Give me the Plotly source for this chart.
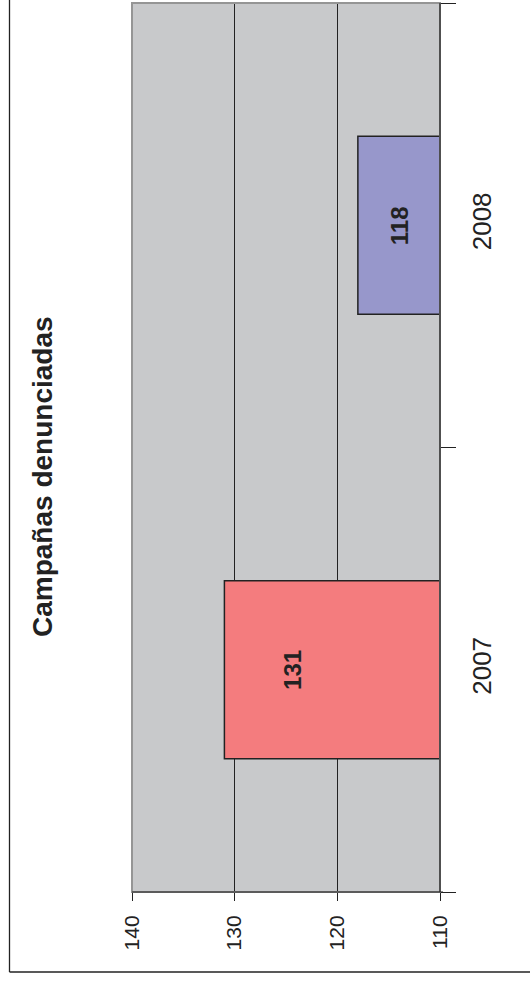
import plotly.graph_objects as go

# ---- data ----
years = ["2007", "2008"]
campaigns = [131, 118]
bar_colors = ["#F47C7E", "#9797CB"]
label_at = [124.3, 114.0]          # where the value labels sit on the value axis
value_ticks = [110, 120, 130, 140]
title_text = "Campañas denunciadas"

W, H = 530, 987
L, R, T, B = 132, 90, 3, 95
pw = W - L - R
ph = H - T - B

def px_x(p):
    return (p - L) / pw

def px_y(p):
    return (H - B - p) / ph

FONT = "Liberation Sans, Arial, sans-serif"

fig = go.Figure()
fig.add_trace(go.Bar(
    y=years, x=campaigns, orientation="h",
    marker=dict(color=bar_colors, line=dict(color="#222222", width=1.5)),
    width=0.4, hoverinfo="skip",
))

annotations = []
for i, (v, pos) in enumerate(zip(campaigns, label_at)):
    annotations.append(dict(
        x=pos, y=i, xref="x", yref="y", text=f"<b>{v}</b>", showarrow=False,
        xanchor="center", yanchor="middle",
        textangle=-90, font=dict(family=FONT, size=24, color="#222222"),
    ))
annotations.append(dict(
    x=px_x(42), y=px_y(477), xref="paper", yref="paper",
    xanchor="center", yanchor="middle",
    text=f"<b>{title_text}</b>", showarrow=False, textangle=-90,
    font=dict(family=FONT, size=28, color="#222222"),
))

shapes = [
    dict(type="rect", xref="paper", yref="paper", x0=0, x1=1, y0=0, y1=1,
         line=dict(color="#959595", width=2), layer="above"),
    dict(type="line", xref="paper", yref="paper", x0=0, x1=px_x(443), y0=0, y1=0,
         line=dict(color="#222222", width=1.2), layer="above"),
    dict(type="line", xref="paper", yref="paper", x0=1, x1=1, y0=0, y1=1,
         line=dict(color="#222222", width=1.2), layer="above"),
    dict(type="line", xref="paper", yref="paper", x0=px_x(9.5), x1=px_x(9.5),
         y0=px_y(-5), y1=px_y(972), line=dict(color="#222222", width=1.3)),
    dict(type="line", xref="paper", yref="paper", x0=px_x(9.5), x1=px_x(540),
         y0=px_y(972), y1=px_y(972), line=dict(color="#222222", width=1.3)),
]

fig.update_layout(
    width=W, height=H,
    margin=dict(l=L, r=R, t=T, b=B, autoexpand=False),
    paper_bgcolor="white", plot_bgcolor="#C8C9CB",
    showlegend=False,
    font=dict(family=FONT, color="#222222"),
    annotations=annotations, shapes=shapes,
)
fig.update_xaxes(
    range=[140, 110], tickvals=value_ticks, ticktext=[str(t) for t in value_ticks],
    tickangle=-90, ticks="outside", ticklen=8, tickcolor="#222222", tickwidth=1,
    showgrid=True, gridcolor="#222222", gridwidth=1,
    showline=False, zeroline=False,
    tickfont=dict(family=FONT, size=21, color="#222222"),
    ticklabelstandoff=6,
)
fig.update_yaxes(
    type="category", categoryorder="array", categoryarray=years, side="right",
    range=[-0.5, len(years) - 0.5],
    tickangle=-90, ticks="outside", ticklen=15, tickcolor="#222222", tickwidth=1,
    tickson="boundaries", showgrid=False, showline=False, zeroline=False,
    tickfont=dict(family=FONT, size=26, color="#222222"),
    ticklabelstandoff=24,
)

fig.write_html("out.html", config={"displayModeBar": False},
               post_script="document.body.style.margin='0';")
